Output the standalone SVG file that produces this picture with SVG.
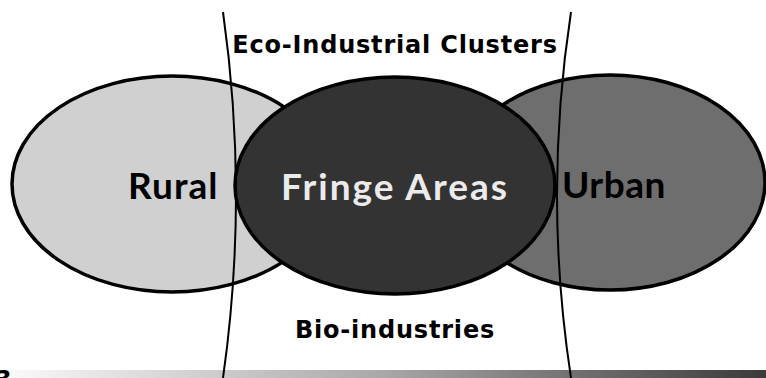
<svg xmlns="http://www.w3.org/2000/svg" width="766" height="378" viewBox="0 0 766 378">
  <defs>
    <linearGradient id="barGrad" x1="0" y1="0" x2="1" y2="0">
      <stop offset="0" stop-color="#fbfbfb"/>
      <stop offset="0.5" stop-color="#a8a8a8"/>
      <stop offset="1" stop-color="#3a3a3a"/>
    </linearGradient>
  </defs>
  <style>
    .ell { stroke: #000; stroke-width: 3.5; }
    .big { font-family: Lato, "Open Sans", "DejaVu Sans", sans-serif; font-weight: bold; font-size: 37px; }
    .lbl { font-family: "DejaVu Sans", Verdana, sans-serif; font-weight: bold; font-size: 24px; fill: #000; letter-spacing: 0.8px; }
    .div { fill: none; stroke: #000; stroke-width: 2; }
  </style>
  <rect width="766" height="378" fill="#fff"/>
  <rect x="0" y="370" width="766" height="8" fill="url(#barGrad)"/>
  <text x="-6" y="388" font-family="'DejaVu Sans', sans-serif" font-weight="bold" font-style="italic" font-size="24" fill="#000">3</text>

  <g id="rural">
    <ellipse class="ell" cx="172" cy="184" rx="160" ry="108" fill="#d0d0d0"/>
    <text class="big" x="128" y="199" fill="#000" letter-spacing="1">Rural</text>
  </g>
  <g id="urban">
    <ellipse class="ell" cx="610" cy="182.5" rx="155" ry="107.5" fill="#6e6e6e"/>
    <text class="big" x="562" y="198" fill="#000" letter-spacing="0.5">Urban</text>
  </g>
  <g id="fringe">
    <ellipse class="ell" cx="395" cy="185.5" rx="160" ry="108.5" fill="#333333"/>
    <text class="big" x="395" y="200" text-anchor="middle" fill="#ebebeb" letter-spacing="2">Fringe Areas</text>
  </g>

  <g id="connectors">
    <path class="div" d="M223,12 Q249,195 223,378"/>
    <path class="div" d="M571,12 Q543,195 571,378"/>
  </g>

  <g id="eco">
    <text class="lbl" x="395" y="53" text-anchor="middle">Eco-Industrial Clusters</text>
  </g>
  <g id="bio">
    <text class="lbl" x="395" y="338" text-anchor="middle">Bio-industries</text>
  </g>
</svg>
